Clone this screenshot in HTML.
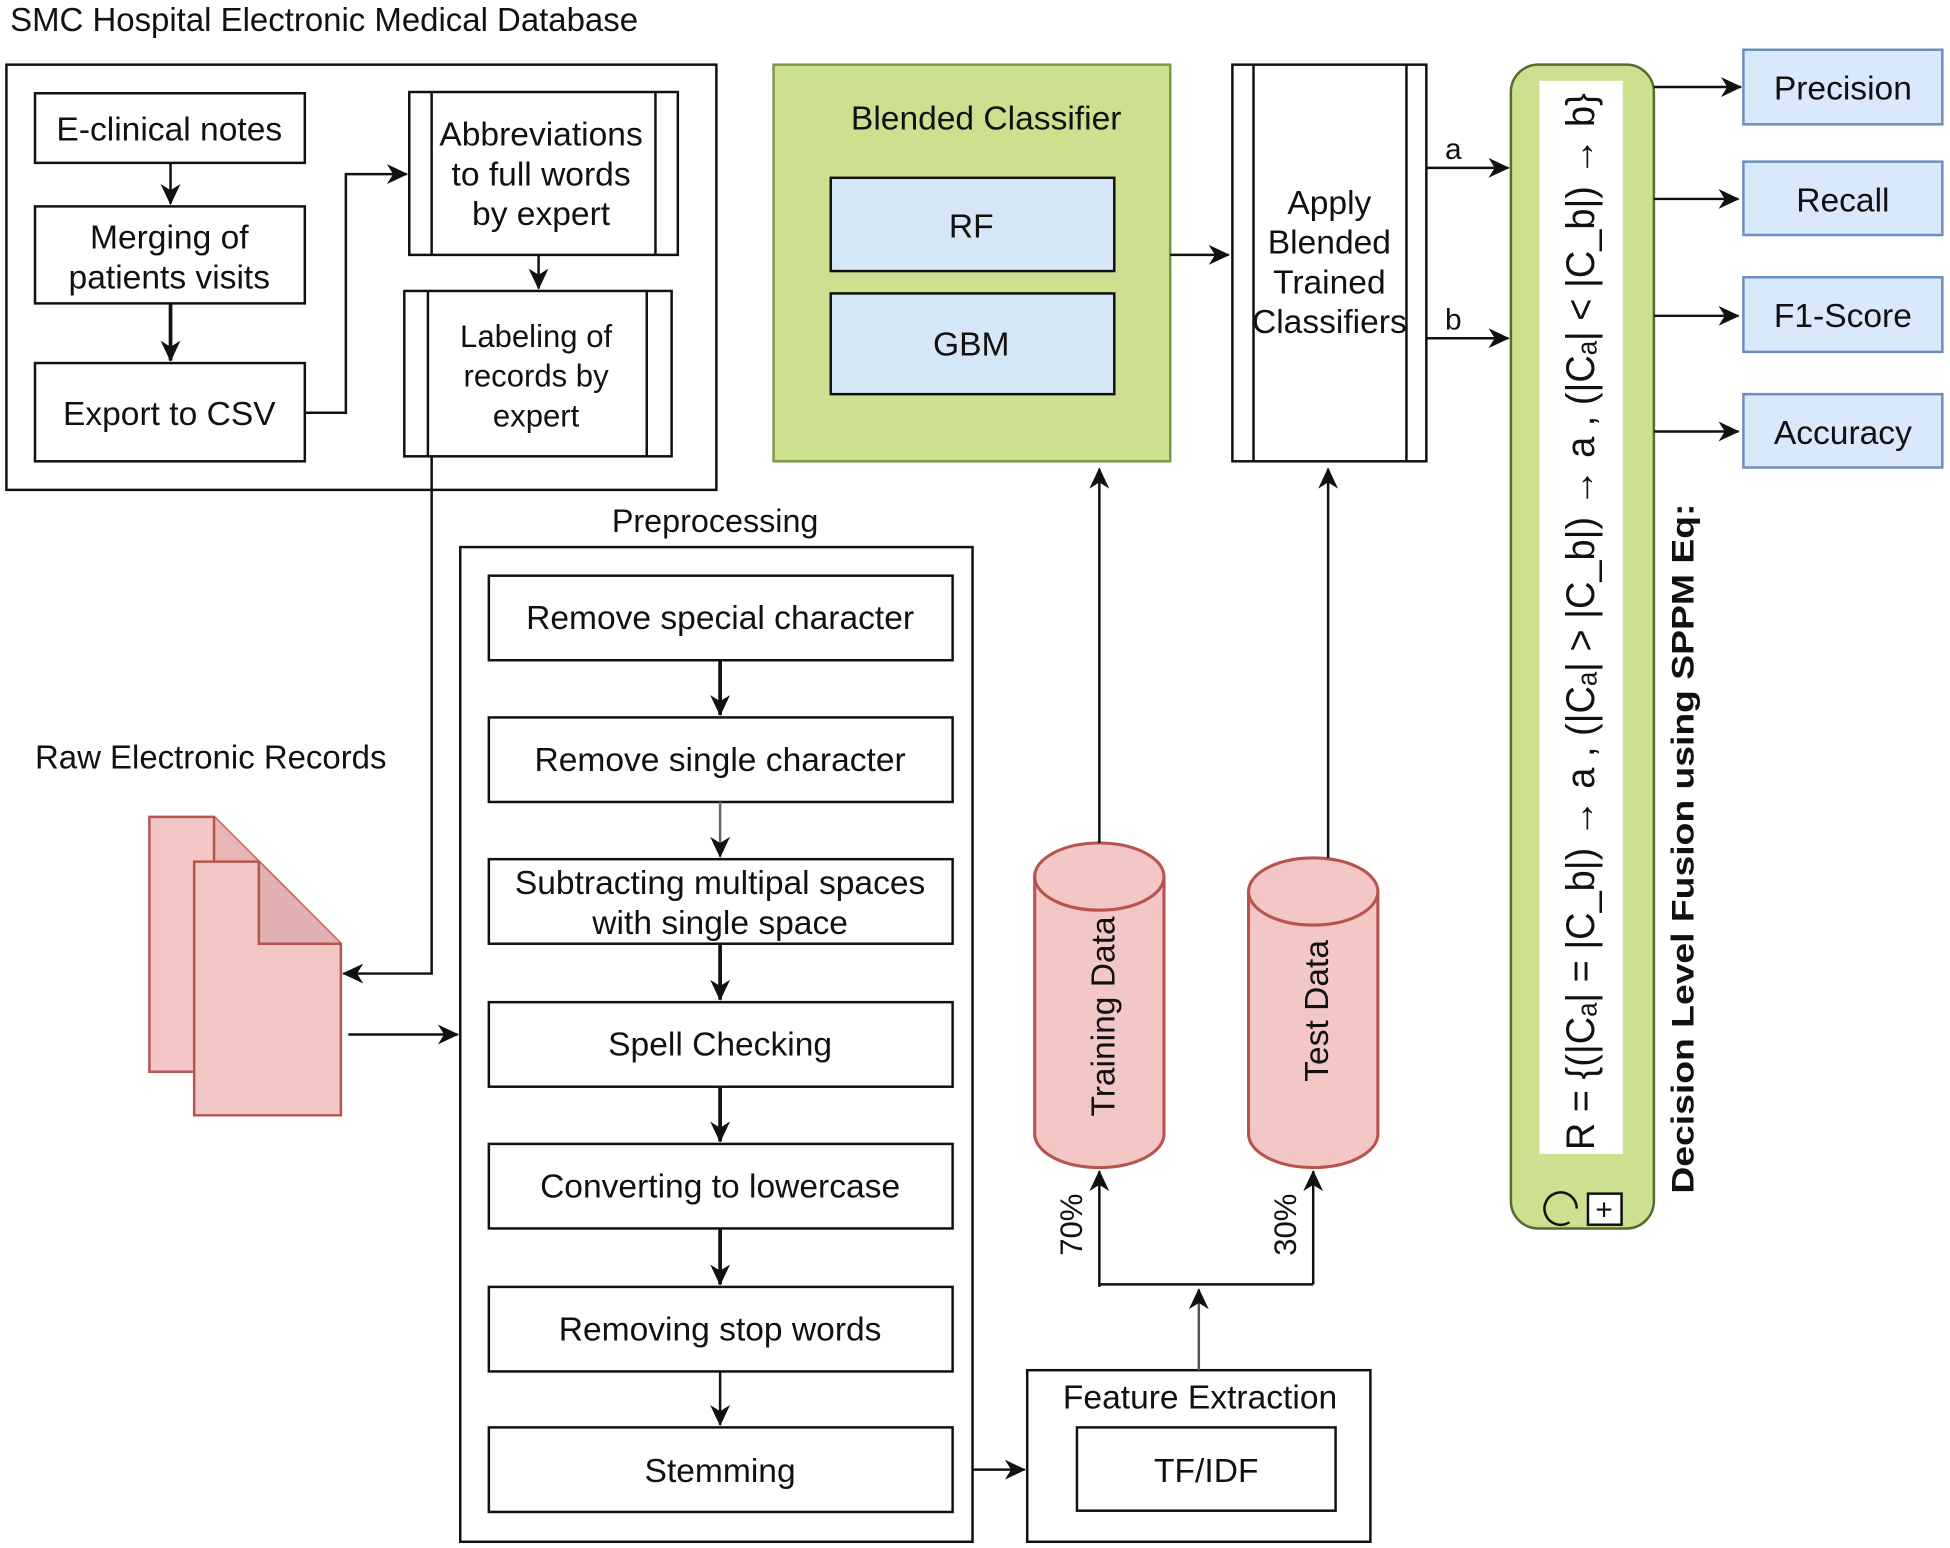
<!DOCTYPE html>
<html><head><meta charset="utf-8"><style>html,body{margin:0;padding:0;background:#fff}svg{display:block}text{font-family:"Liberation Sans",Arial,sans-serif;fill:#111}</style></head><body>
<svg width="1950" height="1548" viewBox="0 0 1568 1245" xmlns="http://www.w3.org/2000/svg">
<defs>
<marker id="ab" markerWidth="18" markerHeight="16" refX="16" refY="8" orient="auto" markerUnits="userSpaceOnUse"><path d="M0,0 L17,8 L0,16 L5,8 Z" fill="#111"/></marker></defs>
<g stroke="#111" stroke-width="2" fill="none">
<text x="8" y="25" font-size="26.5" stroke="none">SMC Hospital Electronic Medical Database</text>
<rect x="5" y="52" width="571" height="342"/>
<rect x="28" y="75" width="217" height="56"/>
<rect x="28" y="166" width="217" height="78"/>
<rect x="28" y="292" width="217" height="79"/>
<rect x="329" y="74" width="216" height="131"/><line x1="347" y1="74" x2="347" y2="205"/><line x1="527" y1="74" x2="527" y2="205"/>
<rect x="325" y="234" width="215" height="133"/><line x1="344" y1="234" x2="344" y2="367"/><line x1="520" y1="234" x2="520" y2="367"/>
<line x1="137" y1="131" x2="137" y2="164" marker-end="url(#ab)"/>
<line x1="137" y1="244" x2="137" y2="290" stroke-width="3" marker-end="url(#ab)"/>
<polyline points="245,332 278,332 278,140 327,140" marker-end="url(#ab)"/>
<line x1="433" y1="205" x2="433" y2="232" marker-end="url(#ab)"/>
<polyline points="347,367 347,783 276,783" marker-end="url(#ab)"/>
<text x="28" y="618" font-size="26.5" stroke="none">Raw Electronic Records</text>
<path d="M120,657 L172,657 L240,725 L240,862 L120,862 Z" fill="#f4c7c7" stroke="#b85450"/>
<path d="M172,657 L172,725 L240,725" fill="#e8b5b5" stroke="#b85450"/>
<path d="M156,693 L208,693 L274,759 L274,897 L156,897 Z" fill="#f4c7c7" stroke="#b85450"/>
<path d="M208,693 L208,759 L274,759" fill="#e0b0b0" stroke="#b85450"/>
<line x1="280" y1="832" x2="368" y2="832" marker-end="url(#ab)"/>
<text x="575" y="428" font-size="26" text-anchor="middle" stroke="none">Preprocessing</text>
<rect x="370" y="440" width="412" height="800"/>
<rect x="393" y="463" width="373" height="68"/>
<rect x="393" y="577" width="373" height="68"/>
<rect x="393" y="691" width="373" height="68"/>
<rect x="393" y="806" width="373" height="68"/>
<rect x="393" y="920" width="373" height="68"/>
<rect x="393" y="1035" width="373" height="68"/>
<rect x="393" y="1148" width="373" height="68"/>
<line x1="579" y1="531" x2="579" y2="575" stroke-width="3" marker-end="url(#ab)"/>
<line x1="579" y1="645" x2="579" y2="689" stroke="#666" marker-end="url(#ab)"/>
<line x1="579" y1="759" x2="579" y2="804" stroke-width="3" marker-end="url(#ab)"/>
<line x1="579" y1="874" x2="579" y2="918" stroke-width="3" marker-end="url(#ab)"/>
<line x1="579" y1="988" x2="579" y2="1033" stroke-width="3" marker-end="url(#ab)"/>
<line x1="579" y1="1103" x2="579" y2="1146" marker-end="url(#ab)"/>
<g stroke="none" font-size="27" text-anchor="middle">
<text x="136" y="113">E-clinical notes</text>
<text x="136" y="200">Merging of</text><text x="136" y="232">patients visits</text>
<text x="136" y="342">Export to CSV</text>
<text x="435" y="117">Abbreviations</text><text x="435" y="149">to full words</text><text x="435" y="181">by expert</text>
<text x="431" y="279" font-size="25">Labeling of</text><text x="431" y="311" font-size="25">records by</text><text x="431" y="343" font-size="25">expert</text>
<text x="579" y="506">Remove special character</text>
<text x="579" y="620">Remove single character</text>
<text x="579" y="719">Subtracting multipal spaces</text><text x="579" y="751">with single space</text>
<text x="579" y="849">Spell Checking</text>
<text x="579" y="963">Converting to lowercase</text>
<text x="579" y="1078">Removing stop words</text>
<text x="579" y="1192">Stemming</text>
</g>
<line x1="782" y1="1182" x2="824" y2="1182" marker-end="url(#ab)"/>
<rect x="826" y="1102" width="276" height="138"/>
<text x="965" y="1133" font-size="27" text-anchor="middle" stroke="none">Feature Extraction</text>
<rect x="866" y="1148" width="208" height="67"/>
<text x="970" y="1192" font-size="27" text-anchor="middle" stroke="none">TF/IDF</text>
<line x1="964" y1="1102" x2="964" y2="1037" stroke="#555" marker-end="url(#ab)"/>
<polyline points="884,1035 884,1033 1056,1033"/>
<line x1="884" y1="1033" x2="884" y2="942" marker-end="url(#ab)"/>
<line x1="1056" y1="1033" x2="1056" y2="942" marker-end="url(#ab)"/>
<text transform="translate(870,1010) rotate(-90)" font-size="25" stroke="none">70%</text>
<text transform="translate(1042,1010) rotate(-90)" font-size="25" stroke="none">30%</text>
<path d="M832,705 L832,912 A52,27 0 0 0 936,912 L936,705" fill="#f4c7c7" stroke="#b85450" stroke-width="2.5"/>
<ellipse cx="884" cy="705" rx="52" ry="27" fill="#f4c7c7" stroke="#b85450" stroke-width="2.5"/>
<path d="M1004,717 L1004,912 A52,27 0 0 0 1108,912 L1108,717" fill="#f4c7c7" stroke="#b85450" stroke-width="2.5"/>
<ellipse cx="1056" cy="717" rx="52" ry="27" fill="#f4c7c7" stroke="#b85450" stroke-width="2.5"/>
<text transform="translate(896,898) rotate(-90)" font-size="27" stroke="none">Training Data</text>
<text transform="translate(1068,870) rotate(-90)" font-size="27" stroke="none">Test Data</text>
<line x1="884" y1="678" x2="884" y2="377" marker-end="url(#ab)"/>
<line x1="1068" y1="690" x2="1068" y2="377" marker-end="url(#ab)"/>
<rect x="622" y="52" width="319" height="319" fill="#cde08f" stroke="#7a9a48"/>
<text x="793" y="104" font-size="27" text-anchor="middle" stroke="none">Blended Classifier</text>
<rect x="668" y="143" width="228" height="75" fill="#d5e6f6"/>
<text x="781" y="191" font-size="27" text-anchor="middle" stroke="none">RF</text>
<rect x="668" y="236" width="228" height="81" fill="#d5e6f6"/>
<text x="781" y="286" font-size="27" text-anchor="middle" stroke="none">GBM</text>
<line x1="941" y1="205" x2="988" y2="205" marker-end="url(#ab)"/>
<rect x="991" y="52" width="156" height="319"/><line x1="1008" y1="52" x2="1008" y2="371"/><line x1="1131" y1="52" x2="1131" y2="371"/>
<g stroke="none" font-size="27" text-anchor="middle"><text x="1069" y="172">Apply</text><text x="1069" y="204">Blended</text><text x="1069" y="236">Trained</text><text x="1069" y="268">Classifiers</text></g>
<line x1="1147" y1="135" x2="1213" y2="135" marker-end="url(#ab)"/>
<line x1="1147" y1="272" x2="1213" y2="272" marker-end="url(#ab)"/>
<text x="1162" y="128" font-size="24" stroke="none">a</text>
<text x="1162" y="265" font-size="24" stroke="none">b</text>
<rect x="1215" y="52" width="115" height="936" rx="22" fill="#cde08f" stroke="#556b2f"/>
<rect x="1238" y="65" width="67" height="863" fill="#fff" stroke="none"/>
<text transform="translate(1282,925) rotate(-90)" font-size="32" font-family="Liberation Serif" stroke="none" textLength="850" lengthAdjust="spacingAndGlyphs">R = {(|Cₐ| = |C_b|) → a , (|Cₐ| &gt; |C_b|) → a , (|Cₐ| &lt; |C_b|) → b}</text>
<path d="M1262,983 A13,13 0 1 1 1268,972" stroke-width="2"/>
<rect x="1277" y="960" width="27" height="25" fill="#fff"/>
<text x="1290" y="981" font-size="24" text-anchor="middle" stroke="none">+</text>
<text transform="translate(1362,960) rotate(-90)" font-size="25" font-weight="bold" stroke="none" textLength="555" lengthAdjust="spacingAndGlyphs">Decision  Level  Fusion  using  SPPM  Eq:</text>
<line x1="1330" y1="70" x2="1400" y2="70" marker-end="url(#ab)"/>
<line x1="1330" y1="160" x2="1398" y2="160" marker-end="url(#ab)"/>
<line x1="1330" y1="254" x2="1398" y2="254" marker-end="url(#ab)"/>
<line x1="1330" y1="347" x2="1398" y2="347" marker-end="url(#ab)"/>
<g fill="#dae8fc" stroke="#6c8ebf">
<rect x="1402" y="40" width="160" height="60"/><rect x="1402" y="130" width="160" height="59"/><rect x="1402" y="223" width="160" height="60"/><rect x="1402" y="317" width="160" height="59"/></g>
<g stroke="none" font-size="27" text-anchor="middle"><text x="1482" y="80">Precision</text><text x="1482" y="170">Recall</text><text x="1482" y="263">F1-Score</text><text x="1482" y="357">Accuracy</text></g>
</g>
</svg>
</body></html>
